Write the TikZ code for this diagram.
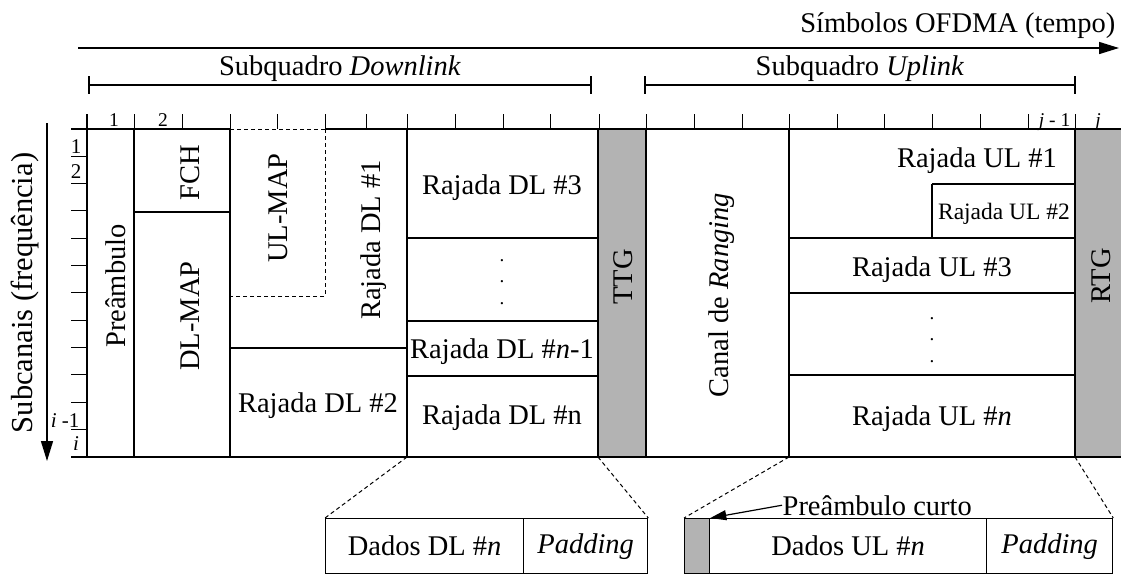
\documentclass[tikz,border=0pt]{standalone}
\usepackage{fontspec}
\setmainfont{Liberation Serif}
\usetikzlibrary{arrows.meta}
\definecolor{gbox}{RGB}{179,179,179}
\begin{document}
\begin{tikzpicture}[x=1pt,y=-1pt, line width=1.3pt,
  txt/.style={font=\fontsize{28.5}{30}\selectfont, inner sep=0pt},
  vdots/.style={align=center, inner sep=0pt, font=\fontsize{19}{21.7}\selectfont, anchor=center},
  lbl/.style={font=\fontsize{19.5}{21}\selectfont, inner sep=0pt, anchor=base},
  lbll/.style={font=\fontsize{21}{23}\selectfont, inner sep=0pt, anchor=base},
  rot/.style={txt, rotate=90, anchor=base},
  tick/.style={line width=1pt},
  dsh/.style={line width=1pt, dash pattern=on 4pt off 3pt},
  cell/.style={draw, line width=1.3pt, inner sep=0pt, anchor=north west, font=\fontsize{28.5}{30}\selectfont},
  bigarrow/.style={line width=1.5pt, -{Triangle[length=20pt,width=12pt]}}]
\useasboundingbox (0,0) rectangle (1121,574);

% ---- top axis ----
\coordinate (ta1) at (78,48);
\coordinate (ta2) at (1119,48);
\draw[bigarrow] (ta1) -- (ta2);
\node[txt, anchor=base east] (sym) at (1116,32) {Símbolos OFDMA (tempo)};

% ---- brackets ----
\coordinate (bd1) at (89,85); \coordinate (bd2) at (591,85);
\coordinate (bu1) at (645,85); \coordinate (bu2) at (1075,85);
\draw (bd1) -- (bd2);
\draw (89,76) -- (89,94); \draw (591,76) -- (591,94);
\draw (bu1) -- (bu2);
\draw (645,76) -- (645,94); \draw (1075,76) -- (1075,94);
\node[txt, anchor=base] (sqd) at (340,75) {Subquadro \textit{Downlink}};
\node[txt, anchor=base] (squ) at (860,75) {Subquadro \textit{Uplink}};

% ---- left axis ----
\coordinate (la1) at (47,123);
\coordinate (la2) at (47,461);
\draw[bigarrow] (la1) -- (la2);
\node[rot, font=\fontsize{30.5}{32}\selectfont] (sub) at (32,293) {Subcanais (frequência)};

% ---- grid frame ----
\draw (71,129) -- (230,129);
\draw[dsh] (230,129) -- (325,129);
\draw (325,129) -- (1121,129);
\draw (71,457) -- (1121,457);
\draw (87,114) -- (87,457);
\foreach \x in {134,182,230,277,325,366,407,455,503,550,599,646,694,742,789,837,884,932,980,1028,1075}
  \draw[tick] (\x,114) -- (\x,129);
\foreach \k in {1,...,11}
  \draw[tick] (71,{129+27.33*\k}) -- (87,{129+27.33*\k});

% tick labels
\node[lbl] (t1) at (114,126) {1};
\node[lbl] (t2) at (163,126) {2};
\node[lbl, anchor=base east] (tj1) at (1071,126) {\textit{j} - 1};
\node[lbl] (tj) at (1098,126) {\textit{j}};
\node[lbll] (l1) at (76,153) {1};
\node[lbll] (l2) at (76,178) {2};
\node[lbll, anchor=base east] (li1) at (80,427) {\textit{i} -1};
\node[lbll] (li) at (76,450) {\textit{i}};

% ---- downlink cells ----
\draw (134,129) -- (134,457);
\draw (134,212) -- (230,212);
\draw (230,129) -- (230,457);
\draw[dsh] (325,129) -- (325,296) -- (230,296);
\draw (230,348) -- (407,348);
\draw (407,129) -- (407,457);
\draw (407,238) -- (598,238);
\draw (407,321) -- (598,321);
\draw (407,376) -- (598,376);
\draw[fill=gbox] (598,129) rectangle (646,457);

\node[rot] (pre) at (125,286) {Preâmbulo};
\node[rot] (fch) at (199,173) {FCH};
\node[rot] (dlmap) at (199,316) {DL-MAP};
\node[rot] (ulmap) at (287,208) {UL-MAP};
\node[rot] (dl1) at (380,240) {Rajada DL \#1};
\node[txt, anchor=base] (dl2) at (318,412) {Rajada DL \#2};
\node[txt, anchor=base] (dl3) at (502,194) {Rajada DL \#3};
\node[vdots] (dld) at (502,282) {.\\.\\.};
\node[txt, anchor=base] (dln1) at (502,358) {Rajada DL \#\textit{n}-1};
\node[txt, anchor=base] (dln) at (502,424) {Rajada DL \#n};
\node[rot] (ttg) at (632,277) {TTG};

% ---- uplink cells ----
\draw (789,129) -- (789,457);
\draw (932,184) -- (1075,184);
\draw (932,184) -- (932,238);
\draw (789,238) -- (1075,238);
\draw (789,293) -- (1075,293);
\draw (789,375) -- (1075,375);
\draw[fill=gbox] (1075,129) rectangle (1123,457);

\node[rot] (rng) at (728,295) {Canal de \textit{Ranging}};
\node[txt, anchor=base] (ul1) at (977,167) {Rajada UL \#1};
\node[txt, anchor=base, font=\fontsize{23.5}{25}\selectfont] (ul2) at (1004,219) {Rajada UL \#2};
\node[txt, anchor=base] (ul3) at (932,276) {Rajada UL \#3};
\node[vdots] (uld) at (932,340) {.\\.\\.};
\node[txt, anchor=base] (uln) at (932,425) {Rajada UL \#\textit{n}};
\node[rot] (rtg) at (1110,276) {RTG};

% ---- bottom detail boxes ----
\node[cell, minimum width=198pt, minimum height=55pt] (bdl) at (325,518) {Dados DL \#\textit{n}};
\node[cell, minimum width=124pt, minimum height=55pt] (bdp) at (523,518) {\textit{Padding}};
\node[cell, fill=gbox, minimum width=25pt, minimum height=55pt] (bup) at (684,518) {};
\node[cell, minimum width=277pt, minimum height=55pt] (bul) at (709,518) {Dados UL \#\textit{n}};
\node[cell, minimum width=126pt, minimum height=55pt] (bupd) at (986,518) {\textit{Padding}};

\coordinate (c1) at (407,457);
\coordinate (c2) at (598,457);
\coordinate (c3) at (789,457);
\coordinate (c4) at (1075,457);
\draw[dsh] (c1) -- (bdl.north west);
\draw[dsh] (c2) -- (bdp.north east);
\draw[dsh] (c3) -- (bup.north west);
\draw[dsh] (c4) -- (bupd.north east);

\node[txt, anchor=base west] (pc) at (782,515) {Preâmbulo curto};
\draw[line width=1.2pt, -{Triangle[length=16pt,width=10pt]}] (pc.west) -- (bup.north east);
\end{tikzpicture}
\end{document}
